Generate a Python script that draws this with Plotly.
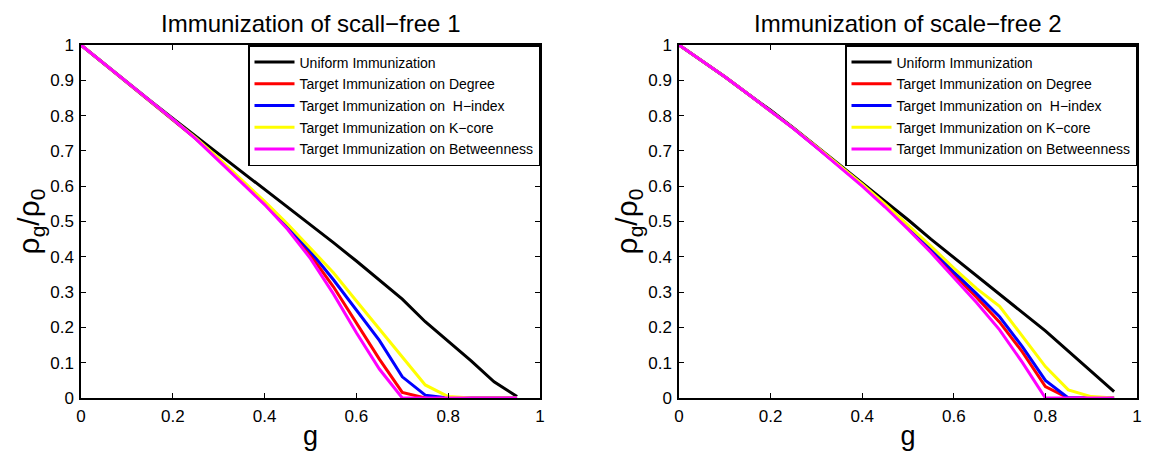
import plotly.graph_objects as go

g = [0, 0.05, 0.1, 0.15, 0.2, 0.25, 0.3, 0.35, 0.4, 0.45, 0.5, 0.55, 0.6, 0.65, 0.7, 0.75, 0.8, 0.85, 0.9, 0.95]

names = ["Uniform Immunization", "Target Immunization on Degree",
         "Target Immunization on \u00a0H\u2212index", "Target Immunization on K\u2212core",
         "Target Immunization on Betweenness"]
colors = ["#000000", "#ff0000", "#0000ff", "#ffff00", "#ff00ff"]

# scale-free 1
sf1_uniform = [1, 0.947, 0.895, 0.843, 0.792, 0.742, 0.69, 0.64, 0.59, 0.54, 0.49, 0.44, 0.388, 0.334, 0.28, 0.216, 0.16, 0.105, 0.046, 0.004]
sf1_degree = [1, 0.947, 0.895, 0.843, 0.79, 0.735, 0.675, 0.612, 0.55, 0.482, 0.405, 0.315, 0.213, 0.11, 0.016, 0, 0, 0, 0, 0]
sf1_hindex = [1, 0.947, 0.895, 0.843, 0.79, 0.736, 0.677, 0.615, 0.553, 0.487, 0.415, 0.335, 0.25, 0.163, 0.06, 0.008, 0, 0, 0, 0]
sf1_kcore = [1, 0.947, 0.895, 0.843, 0.79, 0.737, 0.679, 0.618, 0.557, 0.493, 0.425, 0.355, 0.275, 0.195, 0.116, 0.037, 0.004, 0, 0, 0]
sf1_betw = [1, 0.947, 0.895, 0.843, 0.79, 0.734, 0.673, 0.61, 0.548, 0.478, 0.395, 0.295, 0.185, 0.082, 0, 0, 0, 0, 0, 0]

# scale-free 2
sf2_uniform = [1, 0.955, 0.91, 0.862, 0.815, 0.765, 0.713, 0.662, 0.61, 0.558, 0.505, 0.45, 0.398, 0.346, 0.294, 0.242, 0.19, 0.133, 0.075, 0.018]
sf2_degree = [1, 0.955, 0.91, 0.862, 0.814, 0.764, 0.711, 0.658, 0.603, 0.545, 0.484, 0.42, 0.35, 0.285, 0.215, 0.13, 0.032, 0, 0, 0]
sf2_hindex = [1, 0.955, 0.91, 0.862, 0.814, 0.764, 0.711, 0.658, 0.604, 0.546, 0.486, 0.425, 0.357, 0.295, 0.23, 0.145, 0.05, 0, 0, 0]
sf2_kcore = [1, 0.955, 0.91, 0.862, 0.814, 0.764, 0.712, 0.66, 0.606, 0.549, 0.49, 0.43, 0.368, 0.31, 0.26, 0.175, 0.089, 0.023, 0.004, 0]
sf2_betw = [1, 0.955, 0.91, 0.862, 0.813, 0.763, 0.71, 0.656, 0.6, 0.541, 0.478, 0.412, 0.34, 0.27, 0.193, 0.1, 0, 0, 0, 0]

titles = ["Immunization of scall\u2212free 1", "Immunization of scale\u2212free 2"]
x_ticks = [0, 0.2, 0.4, 0.6, 0.8, 1]
x_labels = ["0", "0.2", "0.4", "0.6", "0.8", "1"]
y_ticks = [0, 0.1, 0.2, 0.3, 0.4, 0.5, 0.6, 0.7, 0.8, 0.9, 1]
y_labels = ["0", "0.1", "0.2", "0.3", "0.4", "0.5", "0.6", "0.7", "0.8", "0.9", "1"]

W, H = 1150, 451
L, R, T, B = 81, 13, 45, 53
PW = W - L - R
FONT = "Liberation Sans, Arial, sans-serif"

fig = go.Figure()
panels = [
    (sf1_uniform, sf1_degree, sf1_hindex, sf1_kcore, sf1_betw),
    (sf2_uniform, sf2_degree, sf2_hindex, sf2_kcore, sf2_betw),
]
for p, series in enumerate(panels):
    for i, ys in enumerate(series):
        fig.add_trace(go.Scatter(
            x=g, y=ys, mode="lines", name=names[i],
            line=dict(color=colors[i], width=3),
            xaxis="x" if p == 0 else "x2", yaxis="y" if p == 0 else "y2",
            legend="legend" if p == 0 else "legend2",
            legendgroup=f"p{p}_{i}",
        ))

xdoms = [[0, (540 - L) / PW], [(679 - L) / PW, 1]]
ydom = [0, 1]

axis_common = dict(
    showgrid=False, zeroline=False, showline=True, linecolor="black", linewidth=1.5,
    mirror="ticks", ticks="inside", ticklen=5, tickwidth=1, tickcolor="black",
    tickfont=dict(family=FONT, size=17, color="black"), automargin=False,
)

layout = dict(
    width=W, height=H, margin=dict(l=L, r=R, t=T, b=B, autoexpand=False),
    paper_bgcolor="white", plot_bgcolor="white",
    font=dict(family=FONT, color="black"),
    showlegend=True,
)
for p in range(2):
    sx = "" if p == 0 else "2"
    layout[f"xaxis{sx}"] = dict(
        axis_common, domain=xdoms[p], range=[0, 1], tickvals=x_ticks,
        ticktext=x_labels, anchor="y" + sx, ticklabelstandoff=2,
        title=dict(text="g", font=dict(family=FONT, size=27), standoff=2),
    )
    layout[f"yaxis{sx}"] = dict(
        axis_common, domain=ydom, range=[0, 1], tickvals=y_ticks,
        ticktext=y_labels, anchor="x" + sx, ticklabelstandoff=2,
        title=dict(text="\u03c1<sub>g</sub>/\u03c1<sub>0</sub>", font=dict(family=FONT, size=30), standoff=2),
    )
    layout["legend" if p == 0 else "legend2"] = dict(
        x=xdoms[p][1], y=1, xanchor="right", yanchor="top",
        xref="paper", yref="paper",
        bgcolor="white", bordercolor="black", borderwidth=1.5,
        font=dict(family=FONT, size=14, color="black"),
        tracegroupgap=0.5, itemwidth=40,
    )

fig.update_layout(**layout)

for p in range(2):
    fig.add_annotation(
        text=titles[p], xref="paper", yref="paper",
        x=(xdoms[p][0] + xdoms[p][1]) / 2, y=(H - B - 24) / (H - T - B),
        xanchor="center", yanchor="middle", showarrow=False,
        font=dict(family=FONT, size=24, color="black"),
    )

fig.write_html("out.html")
